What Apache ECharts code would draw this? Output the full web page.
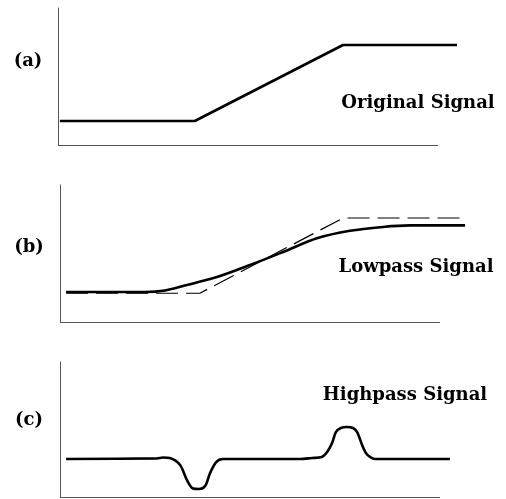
<!DOCTYPE html>
<html>
<head>
<meta charset="utf-8">
<script src="https://cdn.jsdelivr.net/npm/echarts@6/dist/echarts.min.js"></script>
<style>html,body{margin:0;padding:0;background:#fff;}#c{width:506px;height:499px;}</style>
</head>
<body>
<div id="c"></div>
<script>
// Panel (a): original signal (ramp)
const originalSignal = [[0.5, 17.5], [36, 17.5], [75, 73], [105, 73]];
// Panel (b): lowpass signal and dashed original reference
const lowpassSignal = [[1.6, 21.9], [22.4, 21.9], [27.6, 23.0], [32.4, 26.3], [41.3, 32.8], [50, 41.6],
  [58.7, 51.1], [67.6, 61.1], [76.3, 66.6], [85, 69.4], [92.1, 70.5], [106.6, 70.5]];
const originalRef = [[1.6, 21.0], [36.8, 21.0], [74.5, 75.9], [106.6, 75.9]];
// Panel (c): highpass signal
const highpassSignal = [[1.6, 28.1], [25.5, 28.6], [27.1, 29.3], [28.9, 28.9], [31.6, 23.7], [33.4, 12.6],
  [35, 6.3], [36.6, 5.9], [38.2, 8.1], [39.5, 17.8], [41.1, 25.9], [42.9, 28.1], [63.2, 28.1],
  [66.3, 28.9], [68.9, 29.6], [70.3, 33.3], [71.6, 40.0], [72.6, 48.1], [73.9, 51.1], [75.5, 51.9],
  [77.1, 51.1], [78.2, 48.1], [79.5, 38.5], [80.5, 32.6], [81.6, 29.6], [82.9, 28.1], [102.6, 28.1]];
const xAxisEnd = [100, 100, 100];
const panelTags = ['(a)', '(b)', '(c)'];
const panelTitles = ['Original Signal', 'Lowpass Signal', 'Highpass Signal'];

const chart = echarts.init(document.getElementById('c'));
const XMAX = 107;
const axisGray = '#555';
const grids = [
  { left: 58, top: 8, width: 380 * XMAX / 100, height: 137 },
  { left: 60, top: 185, width: 380 * XMAX / 100, height: 137 },
  { left: 60, top: 362, width: 380 * XMAX / 100, height: 135 }
];
const xAxes = grids.map((g, i) => ({
  type: 'value', gridIndex: i, min: 0, max: XMAX, position: 'bottom',
  axisLine: { show: false }, axisTick: { show: false }, axisLabel: { show: false }, splitLine: { show: false }
}));
const yAxes = grids.map((g, i) => ({
  type: 'value', gridIndex: i, min: 0, max: 100, position: 'left',
  axisLine: { show: true, onZero: false, lineStyle: { color: axisGray, width: 1 } },
  axisTick: { show: false }, axisLabel: { show: false }, splitLine: { show: false }
}));
const baseLine = (i) => ({
  silent: true, symbol: 'none', animation: false,
  label: { show: false },
  lineStyle: { color: axisGray, width: 1, type: 'solid' },
  data: [[{ coord: [0, 0] }, { coord: [xAxisEnd[i], 0] }]]
});
const lineStyleMain = { color: '#000', width: 2.6 };
const txt = (t, x, y, align) => ({
  type: 'text', x: x, y: y,
  style: { text: t, fill: '#000', font: 'bold 18px "DejaVu Serif"', textAlign: align, textVerticalAlign: 'middle' }
});
chart.setOption({
  animation: false,
  backgroundColor: '#fff',
  grid: grids,
  xAxis: xAxes,
  yAxis: yAxes,
  series: [
    { type: 'line', xAxisIndex: 0, yAxisIndex: 0, data: originalSignal, symbol: 'none', clip: false,
      lineStyle: lineStyleMain, markLine: baseLine(0) },
    { type: 'line', xAxisIndex: 1, yAxisIndex: 1, data: originalRef, symbol: 'none', clip: false,
      lineStyle: { color: '#000', width: 1.2, type: [22, 8] }, markLine: baseLine(1) },
    { type: 'line', xAxisIndex: 1, yAxisIndex: 1, data: lowpassSignal, symbol: 'none', clip: false,
      smooth: 0.3, lineStyle: lineStyleMain },
    { type: 'line', xAxisIndex: 2, yAxisIndex: 2, data: highpassSignal, symbol: 'none', clip: false,
      smooth: 0.3, lineStyle: lineStyleMain, markLine: baseLine(2) }
  ],
  graphic: [
    txt(panelTags[0], 28, 61, 'center'),
    txt(panelTags[1], 29, 247, 'center'),
    txt(panelTags[2], 29, 420, 'center'),
    txt(panelTitles[0], 418, 103, 'center'),
    txt(panelTitles[1], 416, 267, 'center'),
    txt(panelTitles[2], 405, 395, 'center')
  ]
});
</script>
</body>
</html>
